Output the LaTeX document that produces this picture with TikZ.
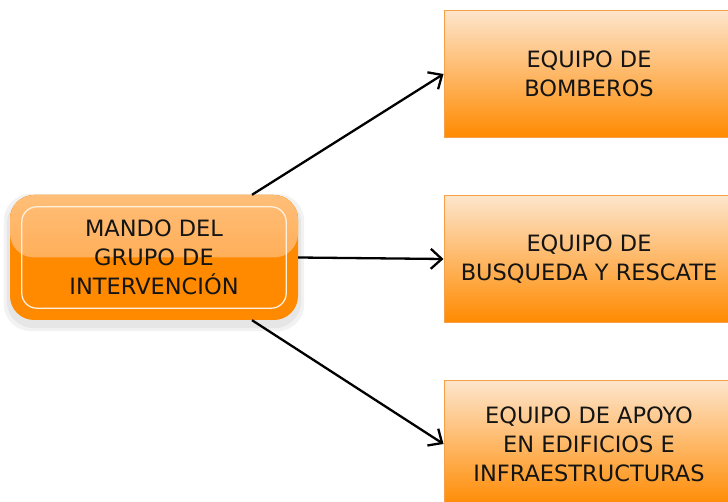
\documentclass[tikz,border=0pt]{standalone}
\usepackage{fontspec}
\newfontfamily\diagfont{DejaVu Sans}
\definecolor{lightpeach}{RGB}{253,229,204}
\definecolor{deeporange}{RGB}{255,138,0}
\definecolor{edgeorange}{RGB}{246,160,72}
\definecolor{glosstop}{RGB}{255,190,120}
\definecolor{glossmid}{RGB}{255,160,58}
\definecolor{inktext}{RGB}{20,20,20}
\colorlet{halo}{black}
\usetikzlibrary{positioning, arrows.meta, backgrounds}

\begin{document}
\begin{tikzpicture}[x=1pt, y=-1pt,
    teambox/.style={draw=edgeorange, line width=1pt,
      top color=lightpeach, bottom color=deeporange,
      minimum width=290pt, minimum height=127pt, inner sep=0pt,
      text=inktext, font=\diagfont\fontsize{22.5}{29}\selectfont, align=center},
    leadbox/.style={fill=deeporange, rounded corners=24pt,
      minimum width=288pt, minimum height=125pt, inner sep=0pt,
      text=inktext, font=\diagfont\fontsize{22.5}{29}\selectfont, align=center,
      path picture={\fill[top color=glosstop, bottom color=glossmid]
        (path picture bounding box.north west) rectangle (path picture bounding box.east);}},
    innerline/.style={draw=white!75!glosstop, line width=1.3pt, rounded corners=15pt},
    link/.style={-{Straight Barb[length=11pt,width=20pt]}, line width=2.3pt, black},
    node distance=57pt,
  ]
    \useasboundingbox (0,0) rectangle (728,502);
    \clip (0,0) rectangle (728,502);

    \node[leadbox] (mando) at (154,257.5) {MANDO DEL\\GRUPO DE\\INTERVENCIÓN};
    \draw[innerline] ([shift={(12pt,-12pt)}]mando.north west) rectangle ([shift={(-12pt,12pt)}]mando.south east);

    % soft shadow under the lead box
    \begin{scope}[on background layer]
      \foreach \g in {6,3}
        \fill[halo, opacity=0.05, rounded corners=27pt]
          ([shift={(-\g pt,\g pt - 5pt)}]mando.north west) rectangle ([shift={(\g pt,-\g pt - 5pt)}]mando.south east);
    \end{scope}

    \node[teambox] (bomb) at (589,74) {EQUIPO DE\\BOMBEROS};
    \node[teambox, below=of bomb] (rescue) {EQUIPO DE\\BUSQUEDA Y RESCATE};
    \node[teambox, below=of rescue] (support) {EQUIPO DE APOYO\\EN EDIFICIOS E\\INFRAESTRUCTURAS};

    \draw[link] ([xshift=98pt]mando.north) -- (bomb.west);
    \draw[link] (mando.east) -- (rescue.west);
    \draw[link] ([xshift=98pt]mando.south) -- (support.west);
  \end{tikzpicture}
\end{document}
